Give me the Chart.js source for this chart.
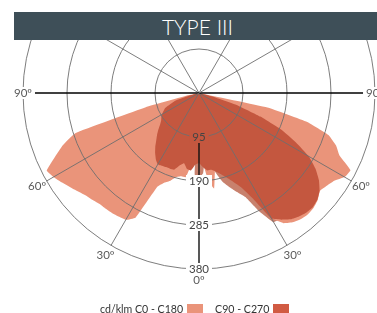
<!DOCTYPE html>
<html>
<head>
<meta charset="utf-8">
<script src="https://cdn.jsdelivr.net/npm/chart.js@4.4.1/dist/chart.umd.min.js"></script>
<style>
  html, body { margin: 0; padding: 0; background: #fff; }
  body { width: 377px; height: 313px; position: relative; overflow: hidden; font-family: Lato, "Open Sans", sans-serif; }
  #title { position: absolute; left: 14px; top: 12px; width: 363px; height: 28px; background: #3e4f58; color: #fff;
           font-size: 21px; font-weight: 300; line-height: 29px; text-align: center; padding-left: 4px; box-sizing: border-box; }
  #plot { position: absolute; left: 0; top: 40px; width: 377px; height: 273px; overflow: hidden; }
  #box { position: absolute; left: 0; top: -123px; width: 377px; height: 392px; }
  #legend { position: absolute; left: 100px; top: 303px; display: flex; align-items: flex-start; white-space: nowrap; }
  .lg { font-size: 10.6px; color: #333; line-height: 12px; margin-top: 0; }
  .sw { width: 16px; height: 12px; margin-top: 1px; margin-left: 4px; margin-right: 12px; }
</style>
</head>
<body>
<div id="title">TYPE III</div>
<div id="plot"><div id="box"><canvas id="myChart"></canvas></div></div>
<div id="legend">
  <span class="lg" id="lg1"></span><span class="sw" id="sw1"></span>
  <span class="lg" id="lg2"></span><span class="sw" id="sw2"></span>
</div>

<script>
// gamma angles sampled every 3 deg, from nadir (0) up to horizontal (90)
var gammaStep = 3;
var tickValues = [95, 190, 285, 380];
var angleTicks = [0, 30, 60, 90];

// cd/klm, gamma 0..90
var c0c180Left  = [151,151,155,184,184,188,199,207,222,302,316,318,320,321,322,326,330,337,345,354,363,369,341,315,281,119,22,0,0,0,0];
var c0c180Right = [151,151,190,209,168,177,186,199,216,248,311,335,345,350,352,350,345,336,341,348,363,367,332,317,294,242,151,0,0,0,0];
var c90c270Left  = [151,155,168,166,155,162,174,175,175,176,178,171,161,150,138,128,118,108,101,97,92,86,80,65,54,17,0,0,0,0,0];
var c90c270Right = [151,160,168,168,173,181,192,205,222,255,313,326,337,343,347,348,344,335,320,300,274,235,194,142,90,30,0,0,0,0,0];
// second C90/C270 trace (shows as the brownish rim)
var c270Left  = [184,177,0,0,0,0,0,0,0,0,0,0,0,0,0,0,0,0,0,0,0,0,0,0,0,0,0,0,0,0,0];
var c270Right = [184,173,130,151,177,199,214,229,246,287,322,324,324,0,0,0,0,0,0,0,0,0,0,0,0,0,0,0,0,0,0];

var lightColor = '#ea947a';
var darkColor = '#c4573f';
var rimColor = '#c8816d';
var darkSwatch = '#d15b43';

var nSteps = 360 / gammaStep;

function polar(left, right) {
    var out = new Array(nSteps).fill(0);
    left.forEach(function (v, i) { out[i] = v; });
    right.forEach(function (v, i) { if (i > 0) out[nSteps - i] = v; });
    return out;
}

var labels = [];
for (var i = 0; i < nSteps; i++) labels.push(i * gammaStep);

document.getElementById('lg1').textContent = 'cd/klm C0 - C180';
document.getElementById('lg2').textContent = 'C90 - C270';
document.getElementById('sw1').style.background = lightColor;
document.getElementById('sw2').style.background = darkSwatch;

var every30 = 30 / gammaStep;
var leftH = every30 * 3, rightH = nSteps - every30 * 3;

var polarLabels = {
    id: 'polarLabels',
    // remember what is under each tick label so its backdrop blends with the fill
    afterDatasetsDraw: function (chart) {
        var r = chart.scales.r;
        chart.$tickBg = tickValues.map(function (v) {
            var p = r.getPointPositionForValue(0, v);
            var d = chart.ctx.getImageData(Math.round(p.x), Math.round(p.y), 1, 1).data;
            return d[3] < 128 ? '#fff' : 'rgb(' + d[0] + ',' + d[1] + ',' + d[2] + ')';
        });
    },
    afterDraw: function (chart) {
        var r = chart.scales.r;
        var ctx = chart.ctx;
        ctx.save();

        // vertical axis below the first ring
        var a = r.getPointPositionForValue(0, tickValues[0]);
        var b = r.getPointPositionForValue(0, tickValues[tickValues.length - 1]);
        ctx.strokeStyle = '#111';
        ctx.lineWidth = 1.4;
        ctx.beginPath();
        ctx.moveTo(a.x, a.y);
        ctx.lineTo(b.x, b.y);
        ctx.stroke();

        ctx.font = '11.5px Lato, "Open Sans", sans-serif';
        ctx.textAlign = 'center';
        ctx.textBaseline = 'middle';

        tickValues.forEach(function (v, j) {
            var p = r.getPointPositionForValue(0, v);
            var w = ctx.measureText(String(v)).width;
            ctx.fillStyle = chart.$tickBg ? chart.$tickBg[j] : '#fff';
            ctx.fillRect(p.x - w / 2 - 3, p.y - 6, w + 6, 12);
            ctx.fillStyle = '#444';
            ctx.fillText(String(v), p.x, p.y);
        });

        angleTicks.forEach(function (deg) {
            var k = deg / gammaStep;
            var idxs = deg === 0 ? [0] : [k, nSteps - k];
            idxs.forEach(function (idx) {
                var dist = deg === 90 ? r.drawingArea : r.drawingArea + 11;
                var p = r.getPointPosition(idx, dist);
                var txt = deg + 'º';
                var w = ctx.measureText(txt).width;
                if (deg === 90) {
                    ctx.fillStyle = '#fff';
                    ctx.fillRect(p.x - w / 2 - 3, p.y - 6, w + 6, 12);
                }
                ctx.fillStyle = '#5a5a5a';
                ctx.fillText(txt, p.x, p.y);
            });
        });
        ctx.restore();
    }
};

var ctx = document.getElementById('myChart').getContext('2d');
var myChart = new Chart(ctx, {
    type: 'radar',
    data: {
        labels: labels,
        datasets: [{
            label: 'C90 - C270',
            data: polar(c90c270Left, c90c270Right),
            backgroundColor: darkColor
        }, {
            label: 'cd/klm C0 - C180',
            data: polar(c0c180Left, c0c180Right),
            backgroundColor: lightColor
        }, {
            label: 'C270',
            data: polar(c270Left, c270Right),
            backgroundColor: rimColor
        }]
    },
    options: {
        responsive: true,
        maintainAspectRatio: false,
        animation: false,
        layout: { padding: { left: 23, right: 2, top: 0, bottom: 40 } },
        elements: {
            line: { borderWidth: 0, borderColor: 'transparent', fill: true, tension: 0.1 },
            point: { radius: 0, hitRadius: 0, hoverRadius: 0 }
        },
        plugins: {
            legend: { display: false },
            tooltip: { enabled: false }
        },
        scales: {
            r: {
                min: 0,
                max: 380,
                startAngle: 180,
                ticks: { display: false, stepSize: 95 },
                pointLabels: { display: false },
                grid: { circular: true, color: '#6e6e6e', lineWidth: 0.9, z: 1 },
                angleLines: {
                    display: true,
                    color: function (c) {
                        return (c.index === leftH || c.index === rightH) ? '#000' : '#6e6e6e';
                    },
                    lineWidth: function (c) {
                        if (c.index % every30 !== 0 || c.index === 0 || c.index === nSteps / 2) return 0;
                        return (c.index === leftH || c.index === rightH) ? 1.4 : 0.9;
                    }
                }
            }
        }
    },
    plugins: [polarLabels]
});
</script>
</body>
</html>
